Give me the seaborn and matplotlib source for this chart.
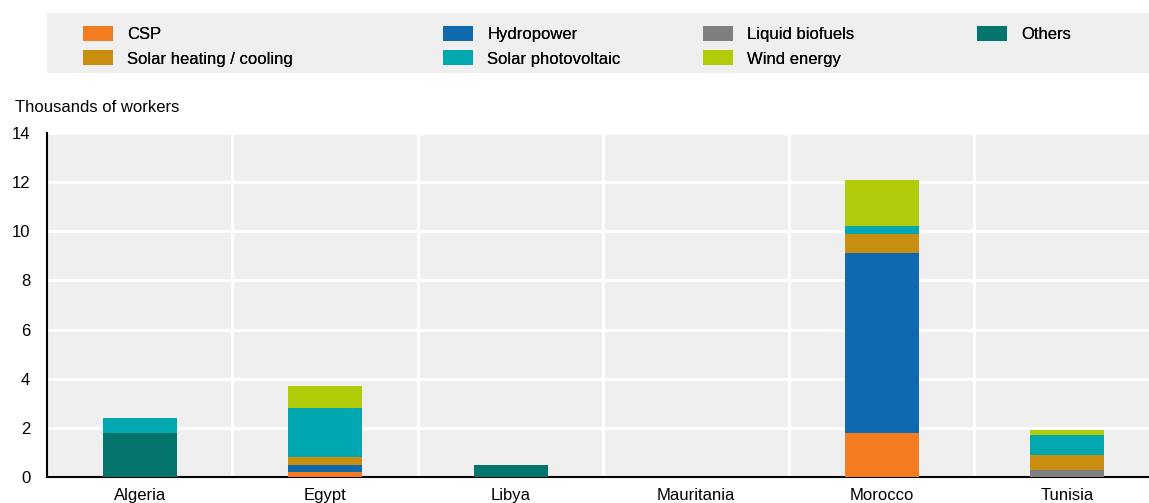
import numpy as np
import pandas as pd
import matplotlib
matplotlib.use('Agg')
import matplotlib.pyplot as plt
from matplotlib.patches import Patch, Rectangle
import seaborn as sns

countries = ['Algeria', 'Egypt', 'Libya', 'Mauritania', 'Morocco', 'Tunisia']

# thousands of workers
csp = [0.0, 0.2, 0.0, 0.0, 1.8, 0.0]
hydropower = [0.0, 0.3, 0.0, 0.0, 7.3, 0.0]
liquid_biofuels = [0.0, 0.0, 0.0, 0.0, 0.0, 0.3]
others = [1.8, 0.0, 0.5, 0.0, 0.0, 0.0]
solar_heating = [0.0, 0.3, 0.0, 0.0, 0.8, 0.6]
solar_pv = [0.6, 2.0, 0.0, 0.0, 0.3, 0.8]
wind = [0.0, 0.9, 0.0, 0.0, 1.9, 0.2]

series_names = ['CSP', 'Hydropower', 'Liquid biofuels', 'Others',
                'Solar heating / cooling', 'Solar photovoltaic', 'Wind energy']
series_values = [csp, hydropower, liquid_biofuels, others, solar_heating, solar_pv, wind]
colors = ['#F47C20', '#0E69AF', '#7F7F7F', '#04756C', '#C98E10', '#02A8B0', '#B2CC0A']

df = pd.DataFrame(dict(zip(series_names, series_values)), index=countries)
cum = df.cumsum(axis=1)

sns.set_style('white')
plt.rcParams['font.family'] = ['Liberation Sans', 'DejaVu Sans']
plt.rcParams['font.size'] = 12
plt.rcParams['text.color'] = 'black'
plt.rcParams['xtick.labelcolor'] = 'black'
plt.rcParams['ytick.labelcolor'] = 'black'

W, H = 1149, 503
fig = plt.figure(figsize=(W / 100, H / 100), dpi=100)
ax = fig.add_axes([47 / W, 26 / H, 1113 / W, 344 / H])
ax.set_facecolor('#EFEFEF')

# stacked bars: draw cumulative totals from the top series down
for name, col in reversed(list(zip(series_names, colors))):
    sns.barplot(x=countries, y=cum[name].values, color=col, saturation=1,
                width=0.4, linewidth=0, ax=ax, zorder=3)

ax.set_xlim(-0.5, 5.5)
ax.set_ylim(0, 14)
ax.set_yticks(np.arange(0, 15, 2))
ax.set_xticks(range(len(countries)))
ax.set_xticklabels(countries)
ax.set_xticks(np.arange(0.5, 5.5, 1), minor=True)
ax.set_xlabel('')
ax.set_ylabel('')

ax.grid(False)
ax.yaxis.grid(True, color='white', linewidth=2, zorder=1)
ax.xaxis.grid(True, which='minor', color='white', linewidth=2, zorder=1)
ax.set_axisbelow(True)

ax.tick_params(axis='x', which='major', length=0, pad=8, labelsize=12, labelcolor='black')
ax.tick_params(axis='x', which='minor', direction='in', length=5, width=1.5, color='black')
ax.tick_params(axis='y', direction='in', length=5, width=1.2, color='black', pad=12,
               labelsize=12, labelcolor='black')

for s in ['top', 'right']:
    ax.spines[s].set_visible(False)
for s in ['left', 'bottom']:
    ax.spines[s].set_color('black')
    ax.spines[s].set_linewidth(1.5)

fig.text(15 / W, 1 - 108 / H, 'Thousands of workers', ha='left', va='center',
         fontsize=12, color='black')

# legend band
fig.patches.append(Rectangle((47 / W, 1 - 73 / H), 1 - 47 / W, 60 / H,
                             transform=fig.transFigure, facecolor='#EFEFEF',
                             edgecolor='none', zorder=0))

handles = [Patch(facecolor=c, edgecolor='none', label=n) for n, c in zip(series_names, colors)]
groups = [[0, 4], [1, 5], [2, 6], [3]]
col_x = [83, 443, 703, 977]
for g, x in zip(groups, col_x):
    leg = fig.legend(handles=[handles[i] for i in g], loc='upper left',
                     bbox_to_anchor=(x / W, 1 - 26 / H), frameon=False,
                     handlelength=1.8, handleheight=1.0, handletextpad=0.85,
                     labelspacing=0.5, borderpad=0, borderaxespad=0, fontsize=12,
                     labelcolor='black')
    fig.add_artist(leg)

fig.savefig('out.png', dpi=100)
